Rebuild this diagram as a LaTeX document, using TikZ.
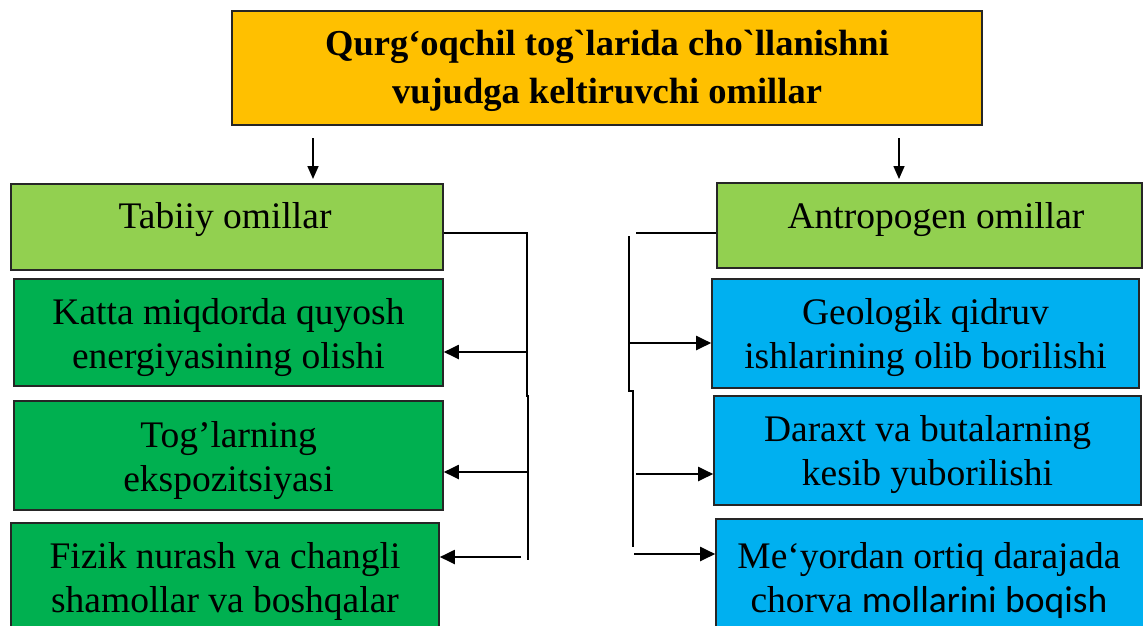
\documentclass[tikz,border=0pt]{standalone}
\usepackage{fontspec}
\setmainfont{Liberation Serif}[Ligatures=TeXOff]
\newfontfamily\calfont{Carlito}
\usetikzlibrary{arrows.meta}
\definecolor{orangeT}{HTML}{FFC000}
\definecolor{lgreen}{HTML}{92D050}
\definecolor{dgreen}{HTML}{00B050}
\definecolor{lblue}{HTML}{00B0F0}
\tikzset{
  box/.style={draw=black!85, line width=1.6pt, inner sep=0pt},
  txt/.style={align=center, font=\fontsize{37.5}{44}\selectfont, inner sep=0pt},
  ttl/.style={align=center, font=\fontsize{36.5}{48}\selectfont\bfseries, inner sep=0pt},
  ln/.style={line width=1.7pt, black},
  arr/.style={line width=2pt, black, -{Triangle[length=15pt,width=14pt]}},
  arrs/.style={line width=1.6pt, black, -{Triangle[length=13pt,width=11pt]}}
}
\begin{document}
\begin{tikzpicture}[x=1pt,y=-1pt]
\useasboundingbox (0,0) rectangle (1143,625);
\clip (0,0) rectangle (1143,625);
% boxes
\node[box, fill=orangeT, minimum width=750pt, minimum height=114pt] (title) at (607,68) {};
\node[ttl] (titletxt) at (607,71) {Qurg‘oqchil tog`larida cho`llanishni\\vujudga keltiruvchi omillar};

\node[box, fill=lgreen, minimum width=432pt, minimum height=86pt] (tab) at (227,227) {};
\node[txt] (tabtxt) at (225,220) {Tabiiy omillar};

\node[box, fill=dgreen, minimum width=429pt, minimum height=107pt] (g1) at (228.5,332.5) {};
\node[txt] (g1txt) at (228.5,338) {Katta miqdorda quyosh\\energiyasining olishi};
\node[box, fill=dgreen, minimum width=429pt, minimum height=109pt] (g2) at (228.5,455.5) {};
\node[txt] (g2txt) at (228.5,460.5) {Tog’larning\\ekspozitsiyasi};
\node[box, fill=dgreen, minimum width=428pt, minimum height=120pt] (g3) at (225,583) {};
\node[txt] (g3txt) at (225,581.5) {Fizik nurash va changli\\shamollar va boshqalar};

\node[box, fill=lgreen, minimum width=425pt, minimum height=85pt] (ant) at (929.5,225.5) {};
\node[txt] (anttxt) at (936,220) {Antropogen omillar};

\node[box, fill=lblue, minimum width=427pt, minimum height=109pt] (b1) at (925.5,333.5) {};
\node[txt] (b1txt) at (925.5,338) {Geologik qidruv\\ishlarining olib borilishi};
\node[box, fill=lblue, minimum width=427pt, minimum height=109pt] (b2) at (927.5,450.5) {};
\node[txt] (b2txt) at (927.5,454.5) {Daraxt va butalarning\\kesib yuborilishi};
\node[box, fill=lblue, minimum width=430pt, minimum height=120pt] (b3) at (931,579) {};
\node[txt] (b3txt) at (929,580.5) {Me‘yordan ortiq darajada\\chorva {\calfont mollarini boqish}};

% top arrows
\coordinate (a1s) at (313,138); \coordinate (a1e) at (313,179);
\coordinate (a2s) at (899,138); \coordinate (a2e) at (899,179);
\draw[arrs] (a1s) -- (a1e);
\draw[arrs] (a2s) -- (a2e);

% left connector
\coordinate (lj) at (527,233);
\coordinate (lk) at (527,396);
\coordinate (lm) at (528,396);
\coordinate (ln) at (528,560);
\draw[ln] (tab.east |- lj) -- (lj) -- (lk) -- (lm) -- (ln);
\coordinate (l1) at (527,352);
\coordinate (l2) at (527,472);
\coordinate (l3) at (521,557);
\draw[arr] (l1) -- (g1.east |- l1);
\draw[arr] (l2) -- (g2.east |- l2);
\draw[arr] (l3) -- (g3.east |- l3);

% right connector
\coordinate (rs) at (636,233);
\coordinate (rj) at (629,236);
\coordinate (rk) at (629,391);
\coordinate (rm) at (633,391);
\coordinate (rn) at (633,547);
\draw[ln] (ant.west |- rs) -- (rs);
\draw[ln] (rj) -- (rk) -- (rm) -- (rn);
\coordinate (r1) at (629,343);
\coordinate (r2) at (636,474);
\coordinate (r3) at (634,554);
\draw[arr] (r1) -- (b1.west |- r1);
\draw[arr] (r2) -- (b2.west |- r2);
\draw[arr] (r3) -- (b3.west |- r3);
\end{tikzpicture}
\end{document}
